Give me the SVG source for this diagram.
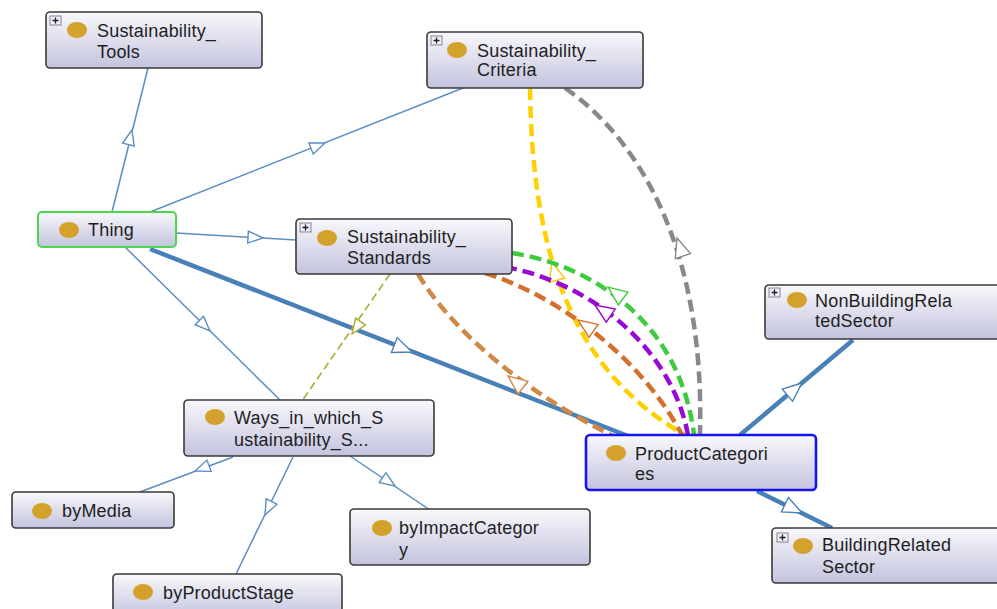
<svg xmlns="http://www.w3.org/2000/svg" width="997" height="609" viewBox="0 0 997 609">
<style>
.box{fill:url(#g);stroke:#3a3a3a;stroke-width:1.6}
.lbl{font-family:"Liberation Sans",Arial,sans-serif;font-size:18px;fill:#1e1e1e;letter-spacing:0.2px}
.dot{fill:#d4a22c}
.pb{fill:#eef0f6;stroke:#6a6a80;stroke-width:0.8}
.pp{stroke:#222;stroke-width:1.3}
.thin{fill:none;stroke:#5b8ec4;stroke-width:1.5}
.thick{fill:none;stroke:#4a80b8;stroke-width:4.5}
.d{fill:none;stroke-width:4.5;stroke-dasharray:12 6}
.ol{fill:none;stroke:#a8ae2c;stroke-width:1.6;stroke-dasharray:8 4}
.ah{fill:#fff;stroke-width:1.4}
</style>
<defs>
<linearGradient id="g" x1="0" y1="0" x2="0" y2="1">
<stop offset="0" stop-color="#f8f8fc"/>
<stop offset="1" stop-color="#c3c3de"/>
</linearGradient>
<path id="ah" d="M0,0 L-15,-6 L-15,6 Z"/>
<path id="ahL" d="M0,0 L-19,-8 L-19,8 Z"/>
</defs>
<rect width="997" height="609" fill="#fff"/>
<g id="connectors">
<line class="thin" x1="112" y1="212" x2="148" y2="68"/>
<use href="#ah" class="ah" stroke="#5b8ec4" transform="translate(132,130) rotate(-76)"/>
<line class="thin" x1="150" y1="212" x2="463" y2="88"/>
<use href="#ah" class="ah" stroke="#5b8ec4" transform="translate(325,143) rotate(-21.6)"/>
<line class="thin" x1="176" y1="233" x2="296" y2="240"/>
<use href="#ah" class="ah" stroke="#5b8ec4" transform="translate(263,238) rotate(3.3)"/>
<line class="thin" x1="125" y1="247" x2="280" y2="400"/>
<use href="#ah" class="ah" stroke="#5b8ec4" transform="translate(210,331) rotate(44.6)"/>
<line class="thin" x1="233" y1="457" x2="140" y2="492"/>
<use href="#ah" class="ah" stroke="#5b8ec4" transform="translate(195,471) rotate(159.4)"/>
<line class="thin" x1="293" y1="457" x2="236" y2="574"/>
<use href="#ah" class="ah" stroke="#5b8ec4" transform="translate(265,515) rotate(116)"/>
<line class="thin" x1="350" y1="456" x2="430" y2="510"/>
<use href="#ah" class="ah" stroke="#5b8ec4" transform="translate(395,486) rotate(34)"/>
<line class="thick" x1="150" y1="249" x2="628" y2="436"/>
<use href="#ahL" class="ah" stroke="#4a80b8" transform="translate(412,352) rotate(21.4)"/>
<line class="thick" x1="740" y1="435" x2="853" y2="340"/>
<use href="#ahL" class="ah" stroke="#4a80b8" transform="translate(802,383) rotate(-40)"/>
<line class="thick" x1="757" y1="491" x2="832" y2="528"/>
<use href="#ahL" class="ah" stroke="#4a80b8" transform="translate(802,513) rotate(26)"/>
<line class="ol" x1="390" y1="274" x2="302" y2="401"/>
<use href="#ah" class="ah" stroke="#a8ae2c" transform="translate(352,334) rotate(124.7)"/>
<path class="d" stroke="#888888" d="M565,88 C640,140 705,250 700,435"/>
<use href="#ahL" class="ah" stroke="#888888" transform="translate(677,238) rotate(-108)"/>
<path class="d" stroke="#ffd000" d="M530,88 C532,250 570,370 685,435"/>
<use href="#ahL" class="ah" stroke="#ffc000" transform="translate(552,262) rotate(-105)"/>
<path class="d" stroke="#3ecb3e" d="M512,253 C590,265 680,320 694,435"/>
<use href="#ahL" class="ah" stroke="#3ecb3e" transform="translate(608,287) rotate(-142.7)"/>
<path class="d" stroke="#9a08d4" d="M505,267 C580,280 670,340 688,435"/>
<use href="#ahL" class="ah" stroke="#9a08d4" transform="translate(595,305) rotate(-146)"/>
<path class="d" stroke="#d4702c" d="M485,273 C555,295 640,355 682,435"/>
<use href="#ahL" class="ah" stroke="#d4702c" transform="translate(578,320) rotate(-145)"/>
<path class="d" stroke="#d08848" d="M418,274 C445,320 510,385 615,437"/>
<use href="#ahL" class="ah" stroke="#d08848" transform="translate(508,376) rotate(-142)"/>
</g>
<g id="Sustainability_Tools">
<rect class="box" x="46" y="12" width="216" height="56" rx="4"/>
<rect class="pb" x="50" y="16" width="11" height="9"/><path class="pp" d="M52.5,20.5h6M55.5,17.5v6"/>
<ellipse class="dot" cx="77" cy="30" rx="10" ry="8"/>
<text class="lbl" x="97" y="37">Sustainability_</text>
<text class="lbl" x="97" y="58">Tools</text>
</g>
<g id="Sustainability_Criteria">
<rect class="box" x="427" y="32" width="216" height="56" rx="4"/>
<rect class="pb" x="431" y="36" width="11" height="9"/><path class="pp" d="M433.5,40.5h6M436.5,37.5v6"/>
<ellipse class="dot" cx="457" cy="50" rx="10" ry="8"/>
<text class="lbl" x="477" y="57">Sustainability_</text>
<text class="lbl" x="477" y="76">Criteria</text>
</g>
<g id="Thing">
<rect class="box" x="38" y="212" width="138" height="35" rx="4" style="stroke:#4cd84c;stroke-width:2"/>
<ellipse class="dot" cx="69" cy="230" rx="10" ry="8"/>
<text class="lbl" x="88" y="236">Thing</text>
</g>
<g id="Sustainability_Standards">
<rect class="box" x="296" y="219" width="216" height="55" rx="4"/>
<rect class="pb" x="300" y="223" width="11" height="9"/><path class="pp" d="M302.5,227.5h6M305.5,224.5v6"/>
<ellipse class="dot" cx="327" cy="238" rx="10" ry="8"/>
<text class="lbl" x="347" y="243">Sustainability_</text>
<text class="lbl" x="347" y="264">Standards</text>
</g>
<g id="NonBuildingRelatedSector">
<rect class="box" x="765" y="285" width="240" height="54" rx="4"/>
<rect class="pb" x="769" y="288" width="11" height="9"/><path class="pp" d="M771.5,292.5h6M774.5,289.5v6"/>
<ellipse class="dot" cx="797" cy="300" rx="10" ry="8"/>
<text class="lbl" x="815" y="307">NonBuildingRela</text>
<text class="lbl" x="815" y="327">tedSector</text>
</g>
<g id="ProductCategories">
<rect class="box" x="586" y="435" width="230" height="55" rx="4" style="stroke:#1414f0;stroke-width:2.6"/>
<ellipse class="dot" cx="616" cy="453" rx="10" ry="8"/>
<text class="lbl" x="635" y="460">ProductCategori</text>
<text class="lbl" x="635" y="480">es</text>
</g>
<g id="BuildingRelatedSector">
<rect class="box" x="772" y="528" width="235" height="55" rx="4"/>
<rect class="pb" x="777" y="533" width="11" height="9"/><path class="pp" d="M779.5,537.5h6M782.5,534.5v6"/>
<ellipse class="dot" cx="803" cy="546" rx="10" ry="8"/>
<text class="lbl" x="822" y="551">BuildingRelated</text>
<text class="lbl" x="822" y="573">Sector</text>
</g>
<g id="Ways_in_which_Sustainability_S">
<rect class="box" x="184" y="400" width="250" height="56" rx="4"/>
<ellipse class="dot" cx="215" cy="417" rx="10" ry="8"/>
<text class="lbl" x="234" y="424">Ways_in_which_S</text>
<text class="lbl" x="234" y="446">ustainability_S...</text>
</g>
<g id="byMedia">
<rect class="box" x="12" y="492" width="162" height="36" rx="4"/>
<ellipse class="dot" cx="42" cy="511" rx="10" ry="8"/>
<text class="lbl" x="62" y="517">byMedia</text>
</g>
<g id="byProductStage">
<rect class="box" x="113" y="574" width="229" height="44" rx="4"/>
<ellipse class="dot" cx="143" cy="592" rx="10" ry="8"/>
<text class="lbl" x="163" y="599">byProductStage</text>
</g>
<g id="byImpactCategory">
<rect class="box" x="350" y="509" width="240" height="56" rx="4"/>
<ellipse class="dot" cx="382" cy="528" rx="10" ry="8"/>
<text class="lbl" x="399" y="534">byImpactCategor</text>
<text class="lbl" x="399" y="556">y</text>
</g>
</svg>
